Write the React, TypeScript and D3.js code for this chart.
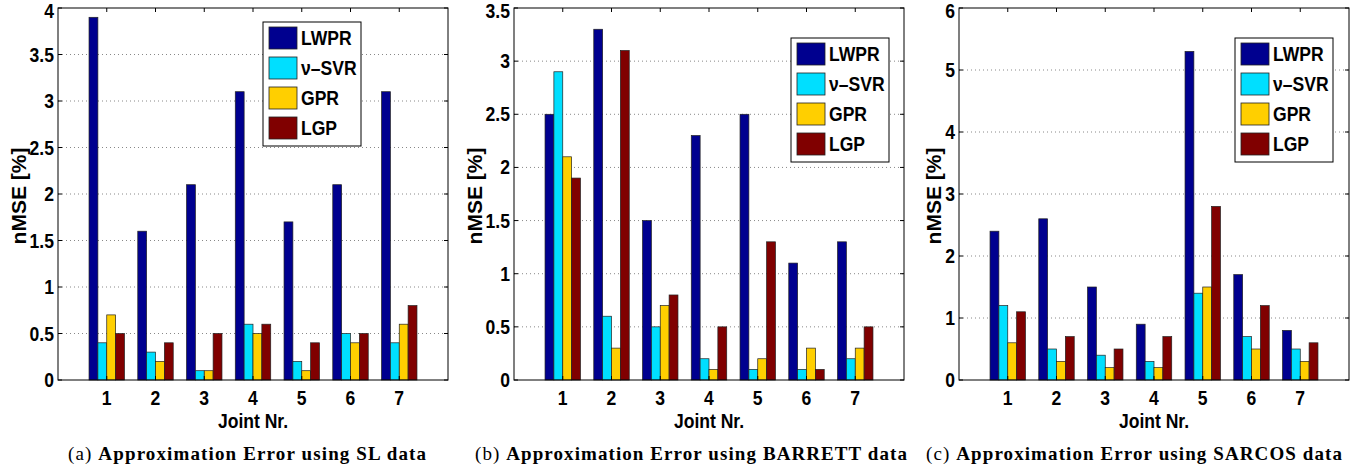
import { useMemo } from "react";
import * as d3 from "d3";

// one entry per method, same order in every panel
const SERIES = ["LWPR", "ν–SVR", "GPR", "LGP"];
const COLORS = ["#00008f", "#00dfff", "#ffcf00", "#800000"];
const JOINTS = [1, 2, 3, 4, 5, 6, 7];

const SL_LWPR = [3.9, 1.6, 2.1, 3.1, 1.7, 2.1, 3.1];
const SL_SVR = [0.4, 0.3, 0.1, 0.6, 0.2, 0.5, 0.4];
const SL_GPR = [0.7, 0.2, 0.1, 0.5, 0.1, 0.4, 0.6];
const SL_LGP = [0.5, 0.4, 0.5, 0.6, 0.4, 0.5, 0.8];

const BA_LWPR = [2.5, 3.3, 1.5, 2.3, 2.5, 1.1, 1.3];
const BA_SVR = [2.9, 0.6, 0.5, 0.2, 0.1, 0.1, 0.2];
const BA_GPR = [2.1, 0.3, 0.7, 0.1, 0.2, 0.3, 0.3];
const BA_LGP = [1.9, 3.1, 0.8, 0.5, 1.3, 0.1, 0.5];

const SA_LWPR = [2.4, 2.6, 1.5, 0.9, 5.3, 1.7, 0.8];
const SA_SVR = [1.2, 0.5, 0.4, 0.3, 1.4, 0.7, 0.5];
const SA_GPR = [0.6, 0.3, 0.2, 0.2, 1.5, 0.5, 0.3];
const SA_LGP = [1.1, 0.7, 0.5, 0.7, 2.8, 1.2, 0.6];

const SL_TICKS = [0, 0.5, 1, 1.5, 2, 2.5, 3, 3.5, 4];
const BA_TICKS = [0, 0.5, 1, 1.5, 2, 2.5, 3, 3.5];
const SA_TICKS = [0, 1, 2, 3, 4, 5, 6];

const WIDTH = 1359;
const HEIGHT = 469;
const TOP = 8;
const BOTTOM = 380;
const FONT = "'Liberation Sans', Arial, Helvetica, sans-serif";
const SERIF = "'Liberation Serif', 'Times New Roman', serif";

const PANELS = [
  {
    left: 58, right: 448, ymax: 4, ticks: SL_TICKS,
    values: [SL_LWPR, SL_SVR, SL_GPR, SL_LGP],
    legend: { x: 263, y: 22 }, ylabX: 18,
    letter: "(a)", caption: "Approximation Error using SL data", capX: 68, capW: 358,
  },
  {
    left: 514, right: 904, ymax: 3.5, ticks: BA_TICKS,
    values: [BA_LWPR, BA_SVR, BA_GPR, BA_LGP],
    legend: { x: 791, y: 38 }, ylabX: 474,
    letter: "(b)", caption: "Approximation Error using BARRETT data", capX: 475, capW: 432,
  },
  {
    left: 959, right: 1349, ymax: 6, ticks: SA_TICKS,
    values: [SA_LWPR, SA_SVR, SA_GPR, SA_LGP],
    legend: { x: 1235, y: 38 }, ylabX: 933,
    letter: "(c)", caption: "Approximation Error using SARCOS data", capX: 926, capW: 416,
  },
];

// bold, slightly condensed label like the matlab export
function T({ x, y, anchor = "start", size = 19.5, children }: any) {
  return (
    <text transform={`translate(${x},${y}) scale(0.9,1)`} textAnchor={anchor}
      fontFamily={FONT} fontWeight="bold" fontSize={size}>{children}</text>
  );
}

function Panel({ p }: { p: (typeof PANELS)[number] }) {
  const x = useMemo(() => d3.scaleLinear().domain([0, 8]).range([p.left, p.right]), [p]);
  const y = useMemo(() => d3.scaleLinear().domain([0, p.ymax]).range([BOTTOM, TOP]), [p]);
  // matlab grouped bars: group width = 4 / (4 + 1.5)
  const gw = SERIES.length / (SERIES.length + 1.5);
  const inner = d3.scaleBand<number>().domain(d3.range(SERIES.length)).range([-gw / 2, gw / 2]);

  return (
    <g>
      {p.ticks.slice(1, -1).map((t) => (
        <line key={"g" + t} x1={p.left} x2={p.right} y1={y(t)} y2={y(t)}
          stroke="#888" strokeWidth={1} strokeDasharray="1,3" />
      ))}
      {p.values.map((vals, s) =>
        vals.map((v, i) => {
          const x0 = x(JOINTS[i] + (inner(s) as number));
          const x1 = x(JOINTS[i] + (inner(s) as number) + inner.bandwidth());
          return (
            <rect key={s + "-" + i} x={x0} y={y(v)} width={x1 - x0} height={BOTTOM - y(v)}
              fill={COLORS[s]} stroke="#222" strokeWidth={0.7} />
          );
        })
      )}
      <rect x={p.left} y={TOP} width={p.right - p.left} height={BOTTOM - TOP}
        fill="none" stroke="#000" strokeWidth={1} />
      {p.ticks.map((t) => (
        <g key={"t" + t}>
          <line x1={p.left} x2={p.left + 4} y1={y(t)} y2={y(t)} stroke="#000" />
          <line x1={p.right - 4} x2={p.right} y1={y(t)} y2={y(t)} stroke="#000" />
          <T x={p.left - 4} y={Math.max(y(t), 11) + 7} anchor="end">{t}</T>
        </g>
      ))}
      {JOINTS.map((j) => (
        <g key={"x" + j}>
          <line x1={x(j)} x2={x(j)} y1={BOTTOM} y2={BOTTOM - 4} stroke="#000" />
          <line x1={x(j)} x2={x(j)} y1={TOP} y2={TOP + 4} stroke="#000" />
          <T x={x(j)} y={405} anchor="middle">{j}</T>
        </g>
      ))}
      <T x={(p.left + p.right) / 2} y={428} anchor="middle">Joint Nr.</T>
      <text transform={`translate(${p.ylabX},196) rotate(-90)`} textAnchor="middle" dy="0.36em"
        fontFamily={FONT} fontWeight="bold" fontSize={21}>nMSE [%]</text>

      <g transform={`translate(${p.legend.x},${p.legend.y})`}>
        <rect x={0} y={0} width={98} height={124} fill="#fff" stroke="#000" strokeWidth={1} />
        {SERIES.map((s, k) => (
          <g key={s}>
            <rect x={6} y={5 + k * 30} width={28} height={22} fill={COLORS[k]} stroke="#222" strokeWidth={0.8} />
            <T x={38} y={5 + k * 30 + 18}>{s}</T>
          </g>
        ))}
      </g>

      <text x={p.capX} y={460} fontFamily={SERIF}
        fontSize={19} textLength={p.capW} lengthAdjust="spacing">
        <tspan>{p.letter} </tspan>
        <tspan fontWeight="bold">{p.caption}</tspan>
      </text>
    </g>
  );
}

export default function App() {
  return (
    <div style={{ position: "absolute", left: 0, top: 0 }}>
      <svg width={WIDTH} height={HEIGHT} style={{ display: "block", background: "#fff" }}>
        {PANELS.map((p) => (
          <Panel key={p.letter} p={p} />
        ))}
      </svg>
    </div>
  );
}
